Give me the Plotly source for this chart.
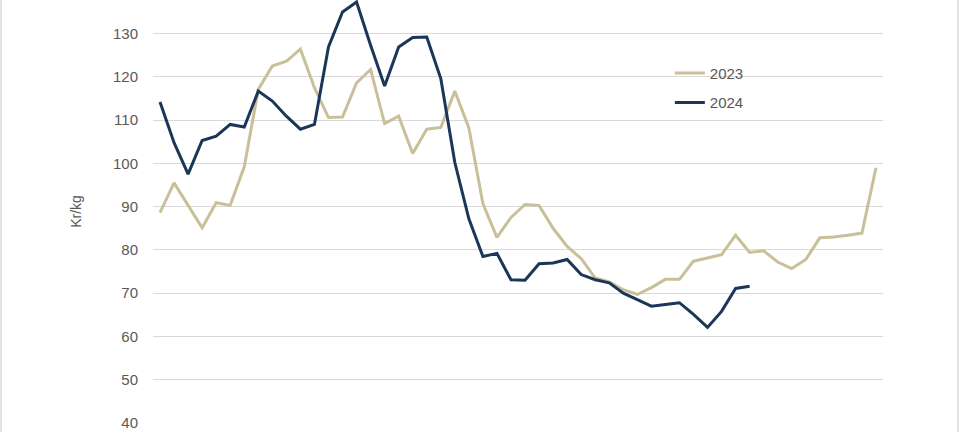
import plotly.graph_objects as go

weeks = list(range(1, 53))

prices_2023 = [88.6, 95.5, 90.3, 85.1, 90.9, 90.3, 99.2, 117.1, 122.5, 123.6,
               126.4, 117.5, 110.6, 110.7, 118.6, 121.7, 109.2, 110.9, 102.3, 107.9,
               108.3, 116.7, 108.2, 90.7, 82.9, 87.5, 90.5, 90.3, 85.0, 80.8,
               78.0, 73.5, 72.6, 70.8, 69.7, 71.3, 73.2, 73.2, 77.4, 78.1,
               78.9, 83.4, 79.4, 79.8, 77.2, 75.7, 77.8, 82.8, 83.0, 83.4,
               83.9, 99.0]

prices_2024 = [114.2, 104.8, 97.5, 105.3, 106.3, 109.0, 108.4, 116.7, 114.4, 110.9,
               107.9, 109.0, 126.9, 135.0, 137.3, 127.3, 117.9, 126.9, 129.1, 129.2,
               119.6, 100.2, 87.2, 78.5, 79.2, 73.1, 73.0, 76.8, 77.0, 77.8,
               74.3, 73.1, 72.4, 70.0, 68.5, 67.0, 67.4, 67.8, 65.1, 62.1,
               65.8, 71.1, 71.6]

y_ticks = [40, 50, 60, 70, 80, 90, 100, 110, 120, 130]

fig = go.Figure()
fig.add_trace(go.Scatter(x=weeks[:len(prices_2023)], y=prices_2023, mode="lines",
                         name="2023", legendgroup="a",
                         line=dict(color="#C9C09A", width=3)))
fig.add_trace(go.Scatter(x=weeks[:len(prices_2024)], y=prices_2024, mode="lines",
                         name="2024", legendgroup="b",
                         line=dict(color="#1B3658", width=3)))

font_family = "'Liberation Sans', Arial, sans-serif"

fig.update_layout(
    width=960, height=432,
    margin=dict(l=153, r=77, t=0, b=9),
    paper_bgcolor="white", plot_bgcolor="white",
    font=dict(family=font_family, color="#595959", size=14),
    showlegend=True,
    legend=dict(x=0.708, y=0.866, xanchor="left", yanchor="top",
                bgcolor="rgba(0,0,0,0)", tracegroupgap=7,
                font=dict(size=15, color="#595959")),
    xaxis=dict(range=[0.5, 52.5], showgrid=False, zeroline=False,
               showticklabels=False, showline=False, ticks=""),
    yaxis=dict(range=[40, 137.76], tickvals=y_ticks, showgrid=True,
               gridcolor="#D9D9D9", gridwidth=1, zeroline=False,
               showline=False, ticks="", ticklabelstandoff=14,
               tickfont=dict(size=15, color="#595959"),
               title=dict(text="Kr/kg", standoff=28,
                          font=dict(size=14, color="#595959"))),
    shapes=[
        dict(type="line", xref="paper", yref="paper",
             x0=-152/730, x1=-152/730, y0=-0.1, y1=1.1,
             line=dict(color="#D9D9D9", width=1.5)),
        dict(type="line", xref="paper", yref="paper",
             x0=(958-153)/730, x1=(958-153)/730, y0=-0.1, y1=1.1,
             line=dict(color="#D9D9D9", width=1.5)),
    ],
)

fig.write_html("out.html", config={"displayModeBar": False},
               post_script="document.body.style.margin='0';document.body.style.overflow='hidden';")
